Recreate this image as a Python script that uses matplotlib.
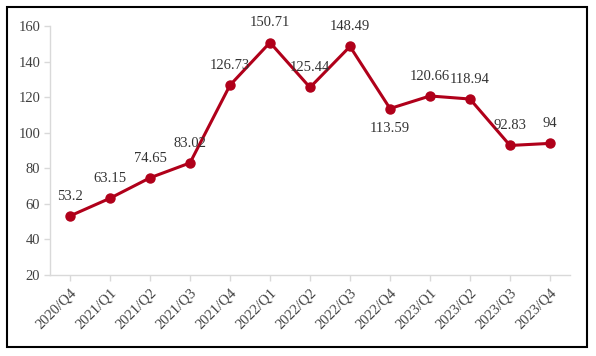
import matplotlib
matplotlib.use("Agg")
import matplotlib.pyplot as plt
from matplotlib.patches import Rectangle

categories = ["2020/Q4", "2021/Q1", "2021/Q2", "2021/Q3", "2021/Q4", "2022/Q1", "2022/Q2",
              "2022/Q3", "2022/Q4", "2023/Q1", "2023/Q2", "2023/Q3", "2023/Q4"]
values = [53.2, 63.15, 74.65, 83.02, 126.73, 150.71, 125.44, 148.49, 113.59, 120.66, 118.94, 92.83, 94]
labels = ["53.2", "63.15", "74.65", "83.02", "126.73", "150.71", "125.44", "148.49", "113.59",
          "120.66", "118.94", "92.83", "94"]
below = [False] * 8 + [True] + [False] * 4
yticks = [20, 40, 60, 80, 100, 120, 140, 160]

plt.rcParams['font.family'] = ['Liberation Serif', 'DejaVu Serif']

W, H = 596, 356
fig = plt.figure(figsize=(W / 100, H / 100), dpi=100)
fig.patches.append(Rectangle((7 / W, 9 / H), 580 / W, 340 / H, transform=fig.transFigure,
                             fill=False, edgecolor='black', linewidth=1.5))

ax = fig.add_axes([50 / W, (H - 275) / H, 520 / W, 249 / H])
x = list(range(len(categories)))
color = '#B0001A'
ax.plot(x, values, color=color, linewidth=2.2, marker='o', markersize=6.5, zorder=3)

for xi, v, lab, b in zip(x, values, labels, below):
    if b:
        ax.annotate(lab, (xi, v), xytext=(0, -9.5), textcoords='offset points',
                    ha='center', va='top', fontsize=10.5, color='#333333')
    else:
        ax.annotate(lab, (xi, v), xytext=(0, 9.5), textcoords='offset points',
                    ha='center', va='bottom', fontsize=10.5, color='#333333')

ax.set_xlim(-0.5, len(categories) - 0.5)
ax.set_ylim(20, 160)
ax.set_yticks(yticks)
ax.set_yticklabels([str(t) for t in yticks])
ax.set_xticks(x)
ax.set_xticklabels(categories, rotation=45, ha='right', va='top', rotation_mode='anchor')

for s in ['top', 'right']:
    ax.spines[s].set_visible(False)
for s in ['left', 'bottom']:
    ax.spines[s].set_color('#d9d9d9')
    ax.spines[s].set_linewidth(1)
ax.tick_params(axis='both', colors='#d9d9d9', labelcolor='#404040', labelsize=10.5, length=4, width=1)
ax.tick_params(axis='y', pad=3)
ax.tick_params(axis='x', pad=4)

fig.savefig("out.png", dpi=100)
